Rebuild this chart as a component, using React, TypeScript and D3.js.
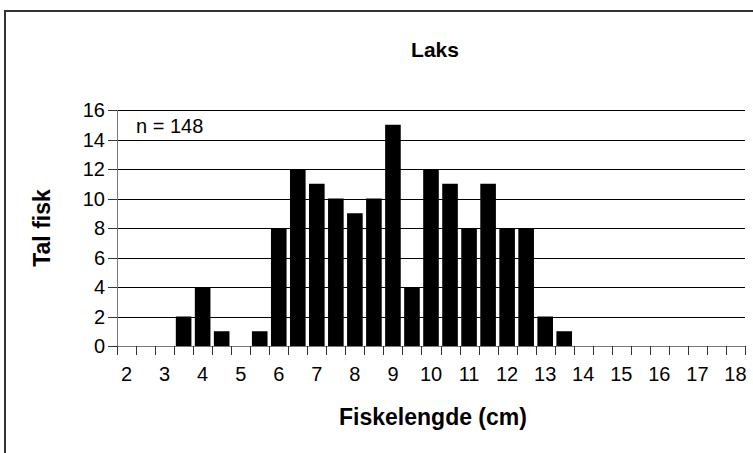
import * as d3 from "d3";
import { useEffect, useRef } from "react";

// lengdeklassar (cm) og tal fisk i kvar klasse
const lengths: number[] = [
  2, 2.5, 3, 3.5, 4, 4.5, 5, 5.5, 6, 6.5, 7, 7.5, 8, 8.5, 9, 9.5, 10, 10.5, 11,
  11.5, 12, 12.5, 13, 13.5, 14, 14.5, 15, 15.5, 16, 16.5, 17, 17.5, 18,
];
const counts: number[] = [
  0, 0, 0, 2, 4, 1, 0, 1, 8, 12, 11, 10, 9, 10, 15, 4, 12, 11, 8, 11, 8, 8, 2,
  1, 0, 0, 0, 0, 0, 0, 0, 0, 0,
];
const yTicks: number[] = [0, 2, 4, 6, 8, 10, 12, 14, 16];

const title = "Laks";
const xTitle = "Fiskelengde (cm)";
const yTitle = "Tal fisk";
const note = "n = 148";

const WIDTH = 753;
const HEIGHT = 453;
const FONT = "'Liberation Sans', Arial, sans-serif";

export default function App() {
  const svgRef = useRef<SVGSVGElement | null>(null);

  useEffect(() => {
    if (!svgRef.current) return;
    const svg = d3.select(svgRef.current);
    svg.selectAll("*").remove();

    const plot = { left: 117, right: 745, top: 110, bottom: 346 };

    // ramme rundt heile diagrammet (kutta i høgre/nedre kant)
    svg
      .append("rect")
      .attr("x", 5)
      .attr("y", 11)
      .attr("width", 800)
      .attr("height", 500)
      .attr("fill", "#fff")
      .attr("stroke", "#333")
      .attr("stroke-width", 2);

    const x = d3
      .scaleBand<number>()
      .domain(lengths)
      .range([plot.left, plot.right])
      .paddingInner(0.18)
      .paddingOuter(0.09);
    const step = x.step();

    const y = d3.scaleLinear().domain([0, 16]).range([plot.bottom, plot.top]);

    // rutenett
    svg
      .append("g")
      .selectAll("line")
      .data(yTicks.filter((d) => d > 0))
      .enter()
      .append("line")
      .attr("x1", plot.left)
      .attr("x2", plot.right)
      .attr("y1", (d) => Math.round(y(d)) + 0.5)
      .attr("y2", (d) => Math.round(y(d)) + 0.5)
      .attr("stroke", "#000")
      .attr("stroke-width", 1);

    // søyler
    svg
      .append("g")
      .selectAll("rect")
      .data(lengths.map((l, i) => ({ l, v: counts[i] })))
      .enter()
      .append("rect")
      .attr("x", (d) => x(d.l)!)
      .attr("y", (d) => y(d.v))
      .attr("width", x.bandwidth())
      .attr("height", (d) => plot.bottom - y(d.v))
      .attr("fill", "#000");

    // y-akse
    const yAxis = svg.append("g");
    yAxis
      .append("line")
      .attr("x1", plot.left + 0.5)
      .attr("x2", plot.left + 0.5)
      .attr("y1", plot.top)
      .attr("y2", plot.bottom)
      .attr("stroke", "#777");
    yAxis
      .selectAll(".tick")
      .data(yTicks)
      .enter()
      .append("line")
      .attr("x1", plot.left - 9)
      .attr("x2", plot.left)
      .attr("y1", (d) => Math.round(y(d)) + 0.5)
      .attr("y2", (d) => Math.round(y(d)) + 0.5)
      .attr("stroke", "#333");
    yAxis
      .selectAll("text")
      .data(yTicks)
      .enter()
      .append("text")
      .attr("x", plot.left - 12)
      .attr("y", (d) => y(d))
      .attr("dy", "0.36em")
      .attr("text-anchor", "end")
      .attr("font-family", FONT)
      .attr("font-size", 20)
      .text((d) => d);

    // x-akse
    const xAxis = svg.append("g");
    xAxis
      .append("line")
      .attr("x1", plot.left)
      .attr("x2", plot.right + 1)
      .attr("y1", plot.bottom + 0.5)
      .attr("y2", plot.bottom + 0.5)
      .attr("stroke", "#777");
    xAxis
      .selectAll(".tick")
      .data(lengths.concat([NaN]))
      .enter()
      .append("line")
      .attr("x1", (_, i) => Math.round(plot.left + i * step) + 0.5)
      .attr("x2", (_, i) => Math.round(plot.left + i * step) + 0.5)
      .attr("y1", plot.bottom)
      .attr("y2", plot.bottom + 9)
      .attr("stroke", "#333");
    xAxis
      .selectAll("text")
      .data(lengths.filter((l) => Number.isInteger(l)))
      .enter()
      .append("text")
      .attr("x", (d) => x(d)! + x.bandwidth() / 2)
      .attr("y", plot.bottom + 35)
      .attr("text-anchor", "middle")
      .attr("font-family", FONT)
      .attr("font-size", 20)
      .text((d) => d);

    // titlar
    svg
      .append("text")
      .attr("x", 435)
      .attr("y", 57)
      .attr("text-anchor", "middle")
      .attr("font-family", FONT)
      .attr("font-weight", "bold")
      .attr("font-size", 21)
      .text(title);

    svg
      .append("text")
      .attr("x", 433)
      .attr("y", 425)
      .attr("text-anchor", "middle")
      .attr("font-family", FONT)
      .attr("font-weight", "bold")
      .attr("font-size", 23)
      .text(xTitle);

    svg
      .append("text")
      .attr("transform", `translate(50, ${(plot.top + plot.bottom) / 2}) rotate(-90)`)
      .attr("text-anchor", "middle")
      .attr("font-family", FONT)
      .attr("font-weight", "bold")
      .attr("font-size", 23)
      .text(yTitle);

    svg
      .append("text")
      .attr("x", 136)
      .attr("y", 133)
      .attr("font-family", FONT)
      .attr("font-size", 20)
      .text(note);
  }, []);

  return (
    <div style={{ position: "absolute", left: 0, top: 0 }}>
      <svg ref={svgRef} width={WIDTH} height={HEIGHT} style={{ display: "block" }} />
    </div>
  );
}
